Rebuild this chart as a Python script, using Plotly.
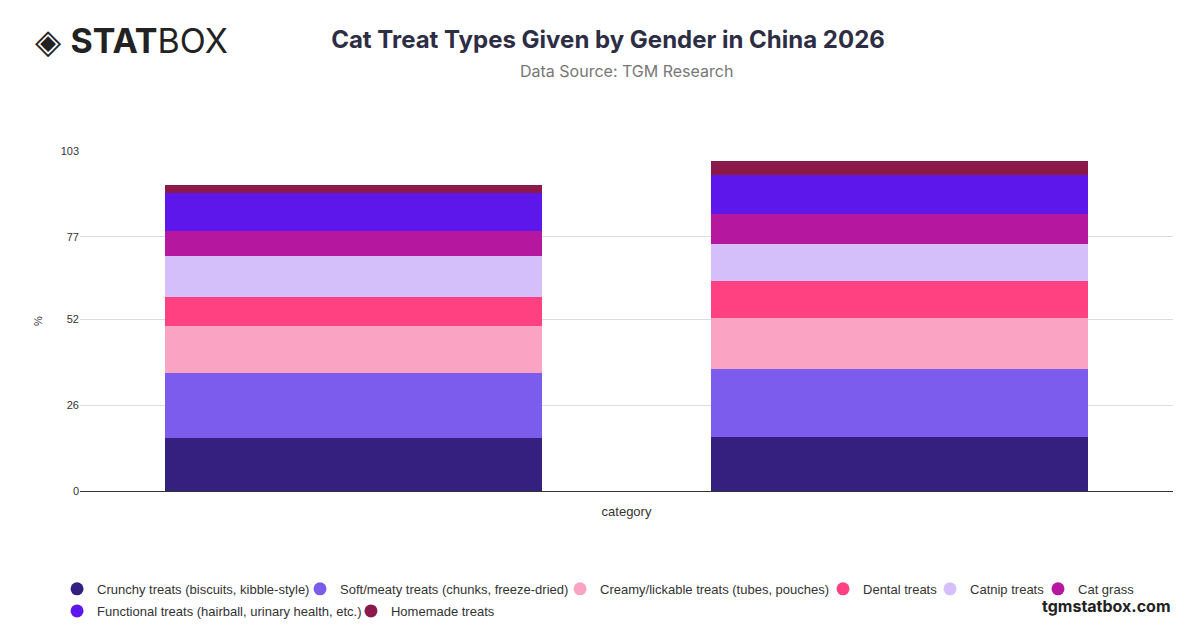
import plotly.graph_objects as go

categories = ["Male", "Female"]
series_names = ["Crunchy treats (biscuits, kibble-style)", "Soft/meaty treats (chunks, freeze-dried)",
                "Creamy/lickable treats (tubes, pouches)", "Dental treats", "Catnip treats", "Cat grass",
                "Functional treats (hairball, urinary health, etc.)", "Homemade treats"]
crunchy = [16.1, 16.4]
soft = [19.7, 20.6]
creamy = [14.2, 15.4]
dental = [8.8, 11.2]
catnip = [12.4, 11.2]
grass = [7.6, 9.1]
functional = [11.5, 11.9]
homemade = [2.4, 4.2]
tick_vals = [0, 26, 52, 77, 103]

values = [crunchy, soft, creamy, dental, catnip, grass, functional, homemade]
colors = ["#36207f", "#7b5ced", "#fba3c3", "#ff4081", "#d5bffb", "#b5179e", "#5e17eb", "#8b1a4a"]
leg_pos = [(-0.021, -0.288), (0.2013, -0.288), (0.4392, -0.288), (0.6798, -0.288),
           (0.7777, -0.288), (0.8765, -0.288), (-0.021, -0.353), (0.2479, -0.353)]

fig = go.Figure()
for n, v, c in zip(series_names, values, colors):
    fig.add_trace(go.Bar(name=n, x=categories, y=v, marker_color=c, marker_line_width=0,
                         legendgroup=n, showlegend=False))
legends = {}
for i, (n, c) in enumerate(zip(series_names, colors)):
    key = "legend" if i == 0 else f"legend{i+1}"
    fig.add_trace(go.Scatter(name=n, x=[None], y=[None], mode="markers", legendgroup=n,
                             legend=key, marker=dict(symbol="circle", size=13, color=c)))
    legends[key] = dict(orientation="h", xanchor="left", yanchor="middle", x=leg_pos[i][0], y=leg_pos[i][1],
                        font=dict(size=13, color="#333"), itemwidth=30, bgcolor="rgba(0,0,0,0)")

fig.update_layout(
    barmode="stack", bargap=0.31, width=1200, height=628,
    plot_bgcolor="white", paper_bgcolor="white",
    font=dict(family="Liberation Sans, Arial, sans-serif", color="#333"),
    margin=dict(l=72, r=35, t=143, b=145, autoexpand=False),
    title=dict(text="<b>Cat Treat Types Given by Gender in China 2026</b>", x=0.5, y=0.963, xanchor="center",
               font=dict(size=24, color="#2d2d44", family="Inter, sans-serif")),
    xaxis=dict(title=dict(text="category", font=dict(size=13)), showticklabels=False, showline=True,
               linecolor="#333", fixedrange=True),
    yaxis=dict(title=dict(text="%", font=dict(size=11)), range=[0, 103], tickvals=tick_vals,
               gridcolor="#ddd", tickfont=dict(size=11), zeroline=False),
    **legends,
)
fig.add_annotation(text="Data Source: TGM Research", xref="paper", yref="paper", x=0.5, y=1.235,
                   xanchor="center", yanchor="middle", showarrow=False,
                   font=dict(size=16, color="#777", family="Inter, sans-serif"))
fig.add_annotation(text="◈ <b>STAT</b>BOX", xref="paper", yref="paper", x=-0.043, y=1.326,
                   xanchor="left", yanchor="middle", showarrow=False,
                   font=dict(size=34, color="#222", family="Inter, sans-serif"))
fig.add_annotation(text="<b>tgmstatbox.com</b>", xref="paper", yref="paper", x=1.0, y=-0.338,
                   xanchor="right", yanchor="middle", showarrow=False,
                   font=dict(size=16, color="#222", family="Inter, sans-serif"))
fig.write_html("out.html")
